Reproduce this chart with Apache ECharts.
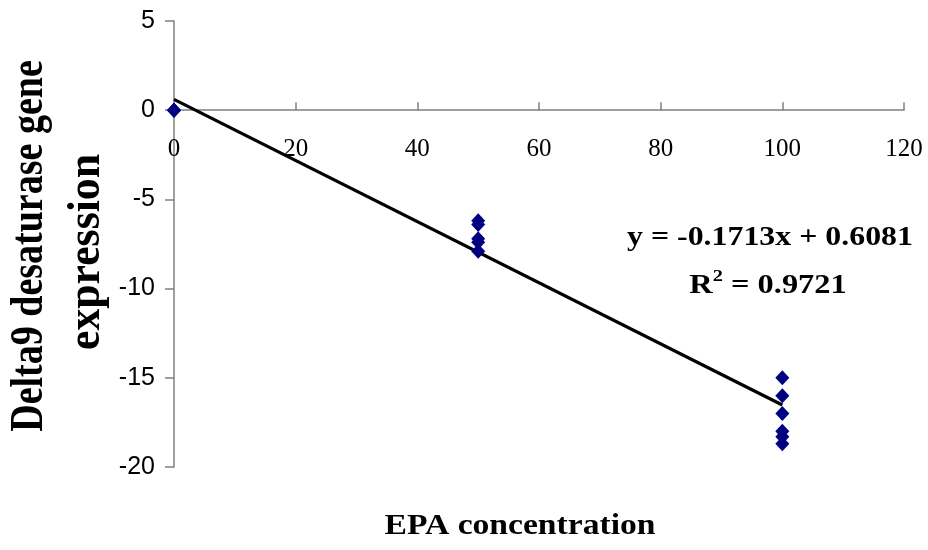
<!DOCTYPE html>
<html><head><meta charset="utf-8">
<script src="https://cdn.jsdelivr.net/npm/echarts@6/dist/echarts.min.js"></script>
<style>html,body{margin:0;padding:0;background:#fff}#c{width:928px;height:550px}</style>
</head><body><div id="c"></div>
<script>
const xTicks = [0, 20, 40, 60, 80, 100, 120];
const yTicks = [5, 0, -5, -10, -15, -20];
const epaConc = [0, 0, 0, 50, 50, 50, 50, 50, 100, 100, 100, 100, 100, 100];
const expression = [0, 0, 0, -6.2, -6.4, -7.2, -7.4, -7.9, -15.0, -16.0, -17.0, -18.0, -18.3, -18.7];
const slope = -0.1713;
const intercept = 0.6081;
const rSquared = 0.9721;
const trendX = [0, 100];

const W = 928, H = 550;
const gridTop = 21, gridBottom = 83;
const yMin = yTicks[yTicks.length - 1], yMax = yTicks[0];
const plotH = H - gridTop - gridBottom;
const xAxisOffset = -plotH * (0 - yMin) / (yMax - yMin);

const chart = echarts.init(document.getElementById('c'));
const axisGray = '#808080';
chart.setOption({
  backgroundColor: '#fff',
  animation: false,
  grid: {left: 174, right: 24, top: gridTop, bottom: gridBottom},
  xAxis: {
    type: 'value', min: xTicks[0], max: xTicks[xTicks.length - 1], interval: 20,
    position: 'bottom', offset: xAxisOffset,
    axisLine: {onZero: false, lineStyle: {color: axisGray, width: 1.5}},
    axisTick: {inside: true, length: 8, lineStyle: {color: axisGray, width: 1.5}},
    axisLabel: {margin: 27, color: '#000', fontFamily: 'Liberation Serif', fontSize: 25},
    splitLine: {show: false}
  },
  yAxis: {
    type: 'value', min: yMin, max: yMax, interval: 5,
    axisLine: {onZero: false, lineStyle: {color: axisGray, width: 1.5}},
    axisTick: {length: 9, lineStyle: {color: axisGray, width: 1.5}},
    axisLabel: {margin: 19, color: '#000', fontFamily: 'Liberation Sans', fontSize: 25},
    splitLine: {show: false}
  },
  series: [
    {
      type: 'line', data: trendX.map(x => [x, slope * x + intercept]),
      symbol: 'none', lineStyle: {color: '#000', width: 3.2}, z: 3
    },
    {
      type: 'scatter', data: epaConc.map((x, i) => [x, expression[i]]),
      symbol: 'diamond', symbolSize: [14, 15],
      itemStyle: {color: '#000080', opacity: 1}, z: 4
    }
  ],
  graphic: [
    {type: 'text', x: 770, y: 238, scaleX: 1.18, style: {
      text: 'y = ' + slope.toFixed(4) + 'x + ' + intercept.toFixed(4),
      font: 'bold 27px "Liberation Serif"', fill: '#000', align: 'center', verticalAlign: 'middle'}},
    {type: 'text', x: 768, y: 284, scaleX: 1.2, style: {
      text: '{b|R}{s|2}{b| = ' + rSquared.toFixed(4) + '}',
      align: 'center', verticalAlign: 'middle',
      rich: {
        b: {font: 'bold 27px "Liberation Serif"', fill: '#000', verticalAlign: 'bottom'},
        s: {font: 'bold 17px "Liberation Serif"', fill: '#000', verticalAlign: 'top', padding: [0, 0, 14, 0]}
      }}},
    {type: 'text', x: 520, y: 526, scaleX: 1.12, style: {
      text: 'EPA concentration', font: 'bold 30px "Liberation Serif"', fill: '#000',
      align: 'center', verticalAlign: 'middle'}},
    {type: 'text', x: 30, y: 246, rotation: Math.PI / 2, scaleY: 1.2, style: {
      text: 'Delta9 desaturase gene', font: 'bold 38px "Liberation Serif"', fill: '#000',
      align: 'center', verticalAlign: 'middle'}},
    {type: 'text', x: 87, y: 252, rotation: Math.PI / 2, scaleX: 1.15, scaleY: 1.2, style: {
      text: 'expression', font: 'bold 38px "Liberation Serif"', fill: '#000',
      align: 'center', verticalAlign: 'middle'}}
  ]
});
</script></body></html>
